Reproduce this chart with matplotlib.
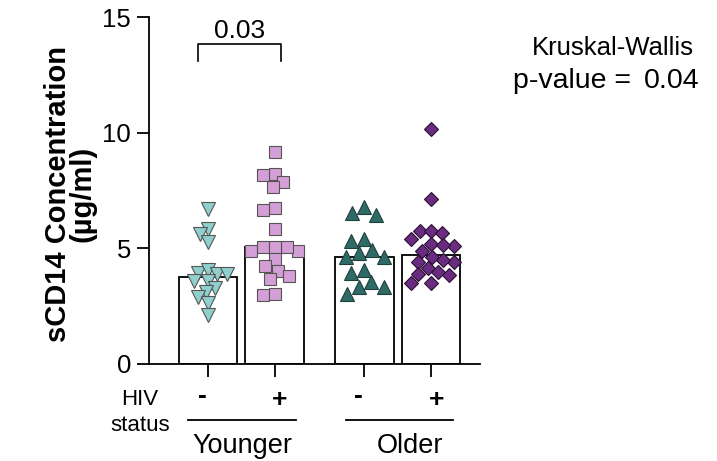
import numpy as np
import matplotlib
matplotlib.use("Agg")
import matplotlib.pyplot as plt

plt.rcParams["font.family"] = ["Liberation Sans", "DejaVu Sans"]

# ---- data -------------------------------------------------------------
groups = ["Younger", "Older"]
hiv_labels = ["-", "+", "-", "+"]
bar_heights = [3.74, 5.06, 4.63, 4.71]

young_neg = [6.70, 5.82, 5.60, 5.28, 3.95, 4.06, 3.88, 3.88, 3.58, 3.58,
             3.29, 3.12, 2.90, 2.64, 2.11]
young_pos = [9.18, 8.24, 8.17, 7.88, 7.64, 6.73, 6.65, 5.82, 4.89, 5.04,
             4.89, 5.04, 5.06, 4.53, 4.23, 4.03, 3.80, 3.65, 2.97, 3.00]
old_neg = [6.77, 6.51, 6.45, 5.31, 5.41, 4.81, 4.92, 4.63, 4.63, 4.06,
           3.94, 3.55, 3.33, 3.33, 3.00]
old_pos = [10.19, 7.13, 5.73, 5.77, 5.67, 5.40, 5.18, 5.11, 5.14, 4.89,
           4.63, 4.42, 4.39, 4.49, 4.16, 3.98, 3.84, 3.88, 3.48, 3.48]
series = [young_neg, young_pos, old_neg, old_pos]

pair_p_label = "0.03"
kw_title = "Kruskal-Wallis"
kw_p_label = "p-value ="
kw_p_value = "0.04"
y_ticks = [0, 5, 10, 15]

# ---- styling ----------------------------------------------------------
positions = [0.0, 1.0, 2.35, 3.35]
markers = ["v", "s", "^", "D"]
faces = ["#8fcfcd", "#d49fd6", "#2e6b66", "#6a2c80"]
edges = ["#555555", "#555555", "#1f3f3c", "#2a0f33"]
msizes = [9.8, 8.4, 10.2, 7.3]
spacing_px = [9.8, 12.0, 13.5, 11.5]   # collision distance used for the swarm layout

W, H = 717, 461
fig = plt.figure(figsize=(W / 100, H / 100), dpi=100)
ax = fig.add_axes([149 / W, 1 - 363.7 / H, (480 - 149) / W, (363.7 - 17.5) / H])
ax.set_xlim(-0.885, 4.085)
ax.set_ylim(0, 15)

for s in ("top", "right"):
    ax.spines[s].set_visible(False)
for s in ("left", "bottom"):
    ax.spines[s].set_linewidth(1.3)
ax.set_yticks(y_ticks)
ax.set_xticks(positions)
ax.set_xticklabels([])
ax.tick_params(axis="both", length=9, width=1.3, labelsize=18.5, pad=4)

ax.bar(positions, bar_heights, width=0.88, color="white", edgecolor="black",
       linewidth=1.3, zorder=1)


def swarm(xc, vals, diam):
    """Greedy beeswarm: returns x offsets (data units) so markers don't overlap."""
    vals = np.asarray(vals, float)
    pts = ax.transData.transform(np.column_stack([np.full(len(vals), xc), vals]))
    ys = pts[:, 1]
    px_per_x = ax.transData.transform([(1, 0)])[0, 0] - ax.transData.transform([(0, 0)])[0, 0]
    placed = []
    out = np.zeros(len(vals))
    for i in np.argsort(-vals, kind="stable"):
        y = ys[i]
        cands = [0.0]
        for (px, py) in placed:
            dy = abs(py - y)
            if dy < diam:
                dx = np.sqrt(diam ** 2 - dy ** 2)
                cands += [px - dx, px + dx]
        cands.sort(key=abs)
        for c in cands:
            if all((c - px) ** 2 + (y - py) ** 2 >= diam ** 2 - 1e-6 for px, py in placed):
                break
        placed.append((c, y))
        out[i] = c / px_per_x
    return out


for k, vals in enumerate(series):
    offs = swarm(positions[k], vals, spacing_px[k])
    ax.plot(positions[k] + offs, vals, linestyle="none", marker=markers[k],
            markersize=msizes[k], markerfacecolor=faces[k],
            markeredgecolor=edges[k], markeredgewidth=0.8, zorder=3,
            clip_on=False)

# pairwise comparison bracket
ax.plot([-0.145, -0.145, 1.1, 1.1], [13.1, 13.87, 13.87, 13.1],
        color="black", linewidth=1.2, clip_on=False)
ax.text(0.47, 14.13, pair_p_label, ha="center", va="baseline", fontsize=19)


def fx(px):
    return px / W


def fy(py):
    return 1 - py / H


# HIV status row and age groups
fig.text(fx(140), fy(405), "HIV", ha="center", va="baseline", fontsize=16)
fig.text(fx(140), fy(431), "status", ha="center", va="baseline", fontsize=16)

trans = matplotlib.transforms.blended_transform_factory(ax.transData, fig.transFigure)
for p, lab in zip(positions, hiv_labels):
    shift = -0.09 if lab == "-" else 0.08
    base = 403 if lab == "-" else 407
    ax.text(p + shift, fy(base), lab, ha="center", va="baseline", fontsize=19,
            fontweight="bold", transform=trans)

for (x0, x1), xt, name in zip([(-0.295, 1.32), (2.07, 3.68)], [0.517, 3.04], groups):
    ax.plot([x0, x1], [fy(420.3)] * 2, color="black", linewidth=1.3,
            transform=trans, clip_on=False)
    ax.text(xt, fy(452.7), name, ha="center", va="baseline", fontsize=19.5,
            transform=trans)

# Kruskal-Wallis annotation
fig.text(fx(612.5), fy(55), kw_title, ha="center", va="baseline", fontsize=18.5)
fig.text(fx(513.3), fy(88.3), kw_p_label, ha="left", va="baseline", fontsize=20.5)
fig.text(fx(644), fy(88.3), kw_p_value, ha="left", va="baseline", fontsize=20.5)

fig.text(fx(70), fy(194), "sCD14 Concentration\n(µg/ml)", rotation=90,
         ha="center", va="center", fontsize=21, fontweight="bold",
         multialignment="center", linespacing=0.85)

fig.savefig("out.png", dpi=100)
